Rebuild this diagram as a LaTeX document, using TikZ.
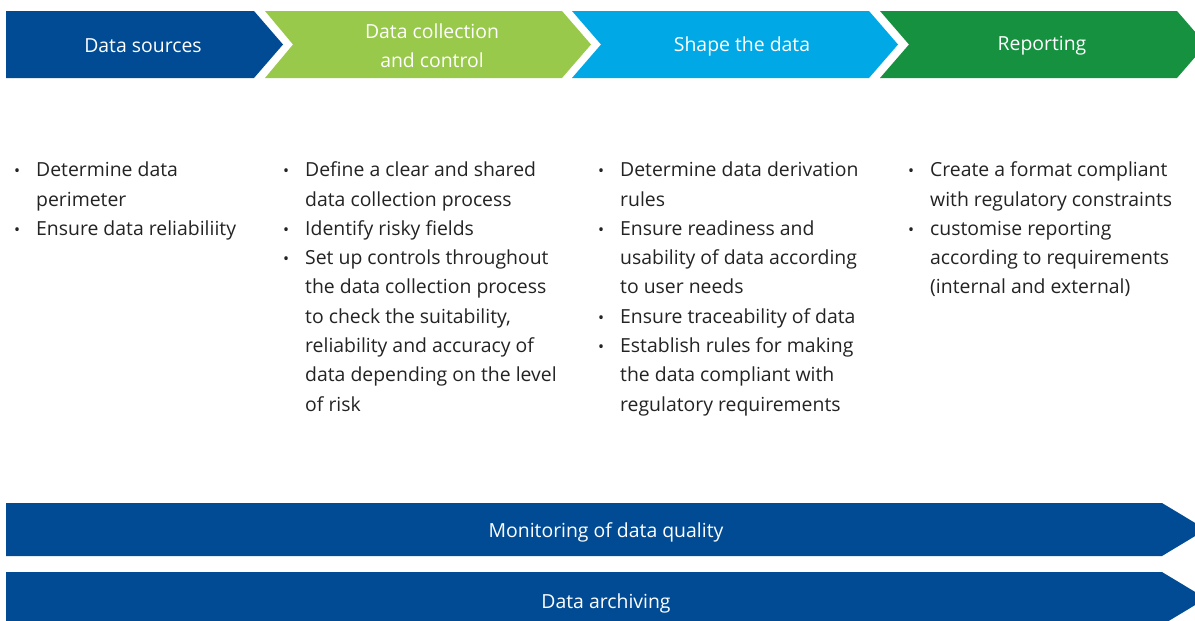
\documentclass[tikz,border=0pt]{standalone}
\usepackage{fontspec}
\setmainfont{Open Sans}
\usepackage{array}
\definecolor{dblue}{RGB}{0,75,147}
\definecolor{lgreen}{RGB}{152,201,74}
\definecolor{cblue}{RGB}{0,169,230}
\definecolor{dgreen}{RGB}{22,145,64}
\definecolor{txt}{RGB}{35,35,35}
\newcommand{\bul}{{\fontsize{16}{16}\selectfont\textbullet}}
\newcommand{\collist}[1]{\fontsize{19.4}{29.3}\selectfont\begin{tabular}{@{}p{22pt}@{}l@{}}#1\end{tabular}}
\begin{document}
\begin{tikzpicture}[x=1pt,y=-1pt,
  head/.style={text=white,font=\fontsize{19.4}{29}\selectfont,align=center,inner sep=0pt},
  bartext/.style={text=white,font=\fontsize{19.4}{29}\selectfont,inner sep=0pt},
  col/.style={anchor=north west,inner sep=0pt,text=txt}]
\useasboundingbox (0,0) rectangle (1195,621);
\begin{scope}
\clip (0,0) rectangle (1195,621);
\fill[dblue] (6,11) -- (254,11) -- (283,44.5) -- (254,78) -- (6,78) -- cycle;
\fill[lgreen] (265,11) -- (562,11) -- (591,44.5) -- (562,78) -- (265,78) -- (293,44.5) -- cycle;
\fill[cblue] (572,11) -- (869,11) -- (898,44.5) -- (869,78) -- (572,78) -- (601,44.5) -- cycle;
\fill[dgreen] (880,11) -- (1177,11) -- (1206,44.5) -- (1177,78) -- (880,78) -- (909,44.5) -- cycle;
\fill[dblue] (6,503) -- (1162,503) -- (1206,529.5) -- (1162,556) -- (6,556) -- cycle;
\fill[dblue] (6,572) -- (1162,572) -- (1206,598.5) -- (1162,625) -- (6,625) -- cycle;
\end{scope}
\node[head] (h1) at (143,46) {Data sources};
\node[head] (h2) at (432,46) {Data collection\\and control};
\node[head] (h3) at (742,46) {Shape the data};
\node[head] (h4) at (1042,46) {Reporting};
\node[bartext] (b1) at (606,532.5) {Monitoring of data quality};
\node[bartext] (b2) at (606,603) {Data archiving};
\node[col] (c1) at (14,156) {\collist{
\bul & Determine data\\
 & perimeter\\
\bul & Ensure data reliabiliity}};
\node[col] (c2) at (283,156) {\collist{
\bul & Define a clear and shared\\
 & data collection process\\
\bul & Identify risky fields\\
\bul & Set up controls throughout\\
 & the data collection process\\
 & to check the suitability,\\
 & reliability and accuracy of\\
 & data depending on the level\\
 & of risk}};
\node[col] (c3) at (598,156) {\collist{
\bul & Determine data derivation\\
 & rules\\
\bul & Ensure readiness and\\
 & usability of data according\\
 & to user needs\\
\bul & Ensure traceability of data\\
\bul & Establish rules for making\\
 & the data compliant with\\
 & regulatory requirements}};
\node[col] (c4) at (908,156) {\collist{
\bul & Create a format compliant\\
 & with regulatory constraints\\
\bul & customise reporting\\
 & according to requirements\\
 & (internal and external)}};
\end{tikzpicture}
\end{document}
